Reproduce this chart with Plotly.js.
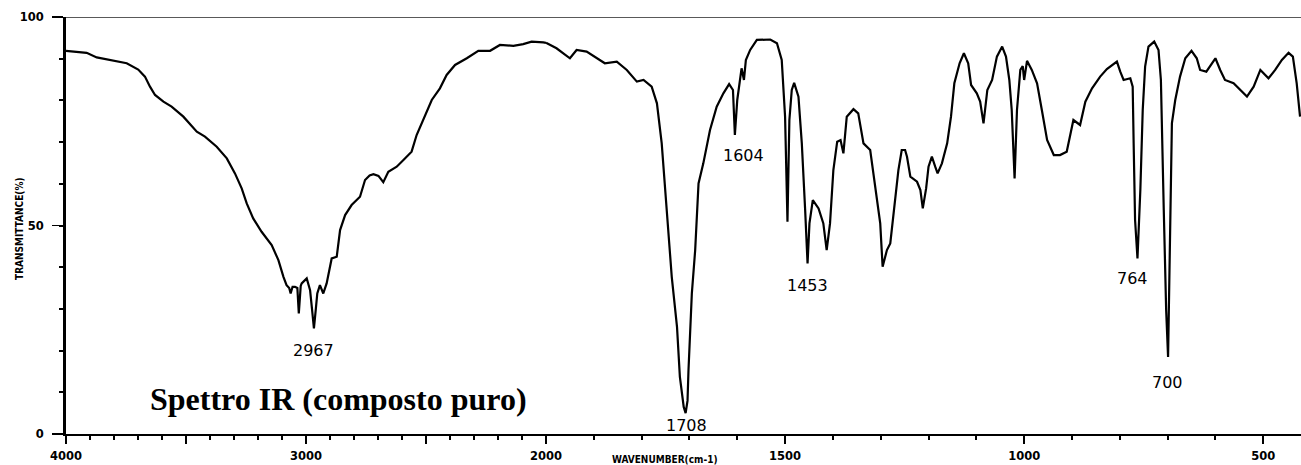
<!DOCTYPE html>
<html>
<head>
<meta charset="utf-8">
<script src="https://cdn.plot.ly/plotly-3.0.1.min.js"></script>
<style>html,body{margin:0;padding:0;background:#fff;}#chart{width:1301px;height:465px;}</style>
</head>
<body>
<div id="chart"></div>
<script>
// Wavenumber (cm-1), descending
const wavenumber = [
  4000,3914,3872,3817,3747,3699,3671,3650,3629,3594,3560,3511,3455,3421,3372,3330,3296,3268,3247,3220,
  3185,3143,3115,3094,3081,3070,3064,3056,3046,3036,3030,3022,3018,2997,2983,2975,2967,2959,2953,2942,
  2928,2914,2900,2893,2872,2858,2837,2810,2775,2754,2735,2719,2698,2678,2657,2622,2594,2560,2539,2511,
  2476,2442,2414,2379,2330,2282,2233,2192,2136,2095,2060,2011,2000,
  1978,1950,1936,1915,1894,1877,1852,1831,1810,1796,1779,1768,1758,1747,1737,1726,1720,1712,1708,1704,
  1702,1695,1688,1681,1671,1657,1643,1629,1617,1609,1605,1600,1594,1591,1586,1582,1573,1559,1531,1517,
  1507,1500,1495,1491,1486,1481,1472,1465,1458,1453,1449,1442,1430,1420,1413,1406,1399,1391,1384,1378,
  1371,1357,1347,1336,1322,1312,1301,1296,1287,1280,1270,1263,1256,1249,1245,1238,1224,1217,1212,1205,
  1200,1193,1186,1181,1172,1161,1153,1146,1135,1126,1117,1111,1099,1092,1085,1077,1067,1057,1046,1038,
  1031,1026,1020,1015,1008,1003,1000,994,984,973,963,952,938,925,911,904,897,883,872,858,
  841,827,806,799,792,778,773,771,768,763,757,752,747,740,728,719,714,708,703,699,
  695,691,684,674,663,650,639,632,619,600,590,580,562,548,534,520,506,489,475,461,
  447,438,430,423
];
// Transmittance (%)
const transmittance = [
  91.9,91.4,90.3,89.7,88.9,87.4,85.7,83.3,81.3,79.7,78.5,76.1,72.5,71.3,68.9,66.1,62.5,58.9,55.3,51.7,
  48.5,45.3,41.7,37.7,35.7,35.0,33.7,35.3,35.3,35.0,28.9,35.5,36.1,37.3,34.5,30.0,25.3,30.0,33.7,35.7,
  33.7,36.1,40.5,42.1,42.5,48.9,52.5,54.9,56.9,60.9,62.0,62.3,61.9,60.4,62.9,64.1,65.7,67.7,71.7,75.3,
  80.1,82.9,86.1,88.5,90.1,91.9,91.9,93.3,93.1,93.5,94.1,93.9,93.8,
  92.5,90.1,92.1,91.7,90.1,88.9,89.3,87.3,84.5,84.9,83.3,79.3,69.7,53.7,37.7,25.7,13.7,6.5,5.0,8.0,
  15.3,33.7,44.1,60.1,64.9,72.9,78.5,81.7,83.9,82.5,71.7,80.1,85.7,87.7,84.9,89.7,92.1,94.5,94.6,93.7,
  89.7,76.1,50.9,75.3,82.5,84.2,80.9,69.7,53.7,40.9,50.5,56.1,54.1,50.5,44.1,50.5,63.3,70.1,70.5,67.3,
  76.1,77.9,76.9,69.7,68.1,60.1,50.5,40.1,44.1,45.7,56.9,63.3,68.1,68.1,66.5,61.7,60.5,58.5,54.1,58.9,
  64.1,66.5,64.1,62.5,64.9,69.7,76.1,84.1,88.9,91.3,88.9,83.7,81.7,79.7,74.5,82.5,84.9,90.5,92.9,90.5,
  84.9,77.7,61.3,77.7,87.3,88.2,84.9,89.5,87.3,84.1,77.7,70.5,66.9,66.9,67.7,71.3,75.3,74.1,79.7,82.9,
  85.7,87.5,89.3,86.9,84.9,85.3,83.3,69.7,51.3,42.1,58.5,77.7,88.1,92.9,94.1,92.1,84.9,53.7,29.7,18.5,
  47.3,74.5,80.1,85.7,90.1,91.9,90.1,87.3,86.9,90.1,87.3,84.9,84.1,82.5,80.9,83.3,87.3,85.3,87.3,89.7,
  91.4,90.5,84.1,76.1
];
// Peak labels
const peakLabels = ["2967","1708","1604","1453","764","700"];
const yTickVals = [0,50,100];
const yTickText = ["0","50","100"];
const xHighTickVals = [4000,3500,3000,2500,2000];
const xHighTickText = ["4000","","3000","","2000"];
const xLowTickVals = [1500,1000,500];
const xLowTickText = ["1500","1000","500"];

// split at the 2000 cm-1 scale change
const hiX=[],hiY=[],loX=[],loY=[];
wavenumber.forEach((w,i)=>{
  if(w>=2000){hiX.push(w);hiY.push(transmittance[i]);}
  if(w<=2000){loX.push(w);loY.push(transmittance[i]);}
});

const L=66,R=1301,T=17,B=434;
const px=x=>(x-L)/(R-L), py=y=>(B-y)/(B-T);
const split = 480/(R-L);

const lineStyle={color:'#000',width:2.2};
const traces=[
  {x:hiX,y:hiY,xaxis:'x',yaxis:'y',mode:'lines',line:lineStyle,hoverinfo:'skip'},
  {x:loX,y:loY,xaxis:'x2',yaxis:'y',mode:'lines',line:lineStyle,hoverinfo:'skip'}
];

const tickFont={family:'DejaVu Sans',size:11.5,color:'#000',weight:'bold'};
const lblFont={family:'DejaVu Sans',size:16,color:'#000'};
const labelPos=[[313,350],[686,425],[743,155],[807,285],[1132,278],[1167,382]];

const annotations = peakLabels.map((t,i)=>({
  text:t,xref:'paper',yref:'paper',x:px(labelPos[i][0]),y:py(labelPos[i][1]),
  xanchor:'center',yanchor:'middle',showarrow:false,font:lblFont
}));
annotations.push({text:'Spettro IR (composto puro)',xref:'paper',yref:'paper',
  x:px(148),y:py(399),xanchor:'left',yanchor:'middle',showarrow:false,
  font:{family:'Liberation Serif',size:32,color:'#000',weight:'bold'}});
annotations.push({text:'TRANSMITTANCE(%)',xref:'paper',yref:'paper',x:px(20),y:py(228),
  xanchor:'center',yanchor:'middle',textangle:-90,showarrow:false,
  font:{family:'DejaVu Sans Condensed',size:10,color:'#000',weight:'bold'}});
annotations.push({text:'WAVENUMBER(cm-1)',xref:'paper',yref:'paper',x:px(665),y:py(459),
  xanchor:'center',yanchor:'middle',showarrow:false,
  font:{family:'DejaVu Sans Condensed',size:10,color:'#000',weight:'bold'}});

const xCommon={showgrid:false,zeroline:false,showline:true,linecolor:'#000',linewidth:2,
  ticks:'outside',ticklen:8,tickwidth:2,tickcolor:'#000',tickfont:tickFont,anchor:'y',
  tickmode:'array',ticklabelstandoff:2,
  minor:{tickmode:'linear',tick0:0,dtick:100,ticks:'outside',ticklen:4,tickwidth:2,tickcolor:'#000',showgrid:false}};

const layout={
  width:1301,height:465,margin:{l:L,r:1301-R,t:T,b:465-B},
  paper_bgcolor:'#fff',plot_bgcolor:'#fff',showlegend:false,
  xaxis:Object.assign({},xCommon,{domain:[0,split],range:[4000,2000],tickvals:xHighTickVals,ticktext:xHighTickText}),
  xaxis2:Object.assign({},xCommon,{domain:[split,1],range:[2000,421],tickvals:xLowTickVals,ticktext:xLowTickText}),
  yaxis:{range:[0,100],showgrid:false,zeroline:false,showline:true,linecolor:'#000',linewidth:3,
    ticks:'outside',ticklen:11,tickwidth:1.5,tickcolor:'#000',tickmode:'array',tickvals:yTickVals,ticktext:yTickText,
    tickfont:tickFont,ticklabelstandoff:6,anchor:'x',
    minor:{tickmode:'linear',tick0:0,dtick:10,ticks:'outside',ticklen:4,tickwidth:2,tickcolor:'#000',showgrid:false}},
  shapes:[{type:'line',xref:'paper',yref:'y',x0:0,x1:1,y0:100,y1:100,line:{color:'#222',width:1.5}}],
  annotations:annotations
};
Plotly.newPlot('chart',traces,layout,{staticPlot:true,displayModeBar:false});
</script>
</body>
</html>
